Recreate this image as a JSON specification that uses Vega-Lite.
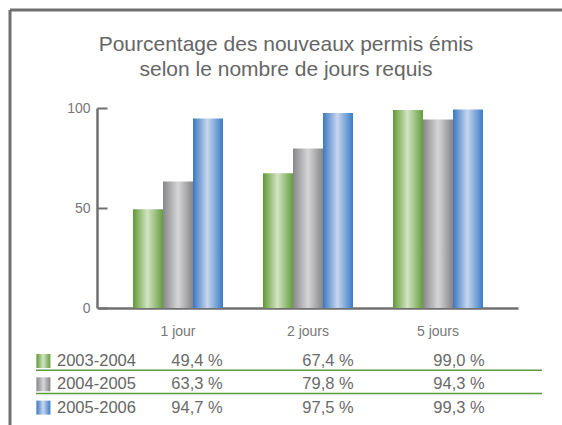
{
  "$schema": "https://vega.github.io/schema/vega-lite/v6.json",
  "width": 552,
  "height": 415,
  "autosize": {"type": "none"},
  "padding": {"left": 10, "top": 10, "right": 0, "bottom": 0},
  "background": "white",
  "view": {"stroke": "#707070", "strokeWidth": 3, "strokeDash": [552, 967, 415, 0]},
  "config": {"font": "Liberation Sans"},
  "params": [
    {"name": "gVert", "expr": "{gradient: 'linear', x1: 0, y1: 0, x2: 1, y2: 0, stops: [{offset: 0, color: '#5f9935'}, {offset: 0.48, color: '#d3e4c3'}, {offset: 1, color: '#659d3e'}]}"},
    {"name": "gGris", "expr": "{gradient: 'linear', x1: 0, y1: 0, x2: 1, y2: 0, stops: [{offset: 0, color: '#87878a'}, {offset: 0.5, color: '#d6d6d8'}, {offset: 1, color: '#858587'}]}"},
    {"name": "gBleu", "expr": "{gradient: 'linear', x1: 0, y1: 0, x2: 1, y2: 0, stops: [{offset: 0, color: '#3a78c2'}, {offset: 0.48, color: '#c8d6ee'}, {offset: 1, color: '#3a7cc6'}]}"}
  ],
  "title": {
    "text": ["Pourcentage des nouveaux permis émis", "selon le nombre de jours requis"],
    "fontSize": 21,
    "font": "Liberation Sans",
    "fontWeight": "normal",
    "color": "#666666",
    "anchor": "middle",
    "frame": "group",
    "lineHeight": 25,
    "offset": -70
  },
  "data": {
    "values": [
      {"jours": "1 jour", "periode": "2003-2004", "pct": 49.4, "texte": "49,4 %"},
      {"jours": "2 jours", "periode": "2003-2004", "pct": 67.4, "texte": "67,4 %"},
      {"jours": "5 jours", "periode": "2003-2004", "pct": 99.0, "texte": "99,0 %"},
      {"jours": "1 jour", "periode": "2004-2005", "pct": 63.3, "texte": "63,3 %"},
      {"jours": "2 jours", "periode": "2004-2005", "pct": 79.8, "texte": "79,8 %"},
      {"jours": "5 jours", "periode": "2004-2005", "pct": 94.3, "texte": "94,3 %"},
      {"jours": "1 jour", "periode": "2005-2006", "pct": 94.7, "texte": "94,7 %"},
      {"jours": "2 jours", "periode": "2005-2006", "pct": 97.5, "texte": "97,5 %"},
      {"jours": "5 jours", "periode": "2005-2006", "pct": 99.3, "texte": "99,3 %"}
    ]
  },
  "layer": [
    {
      "mark": {
        "type": "bar",
        "fill": {"expr": "datum.periode === '2003-2004' ? gVert : datum.periode === '2004-2005' ? gGris : gBleu"},
        "strokeWidth": 0
      },
      "encoding": {
        "x": {
          "field": "jours", "type": "nominal", "sort": null,
          "scale": {"range": [88, 508], "paddingInner": 0.3077, "paddingOuter": 0.2692},
          "axis": {"title": null, "orient": "bottom", "offset": -117, "ticks": false, "domainColor": "#707070", "domainWidth": 2.5, "labelFontSize": 14, "labelColor": "#777777", "labelPadding": 16, "labelAngle": 0, "grid": false}
        },
        "xOffset": {"field": "periode", "type": "nominal", "sort": null, "scale": {"paddingInner": 0, "paddingOuter": 0}},
        "y": {
          "field": "pct", "type": "quantitative",
          "scale": {"domain": [0, 100], "range": [298, 98], "nice": false},
          "axis": {"title": null, "values": [0, 50, 100], "offset": -87, "tickSize": -10, "tickColor": "#707070", "tickWidth": 2, "domainColor": "#707070", "domainWidth": 2.5, "labelFontSize": 14, "labelColor": "#777777", "labelPadding": 17, "grid": false}
        }
      }
    },
    {
      "mark": {"type": "text", "fontSize": 16.5, "color": "#6b6b6b", "align": "center", "baseline": "middle"},
      "encoding": {
        "x": {
          "field": "jours", "type": "nominal", "sort": null,
          "scale": {"range": [121.5, 514.5], "paddingInner": 0, "paddingOuter": 0},
          "axis": null
        },
        "y": {
          "field": "periode", "type": "nominal", "sort": null,
          "scale": {"type": "band", "domain": ["2003-2004", "2004-2005", "2005-2006"], "range": [339.35, 409.25], "paddingInner": 0, "paddingOuter": 0},
          "axis": null
        },
        "text": {"field": "texte"}
      }
    },
    {
      "transform": [{"filter": "datum.jours === '1 jour' && datum.periode !== '2005-2006'"}],
      "mark": {"type": "rule", "color": "#5e9a3a", "strokeWidth": 1.5},
      "encoding": {
        "y": {
          "field": "periode", "type": "nominal", "bandPosition": 0.9,
          "scale": {"type": "band", "domain": ["2003-2004", "2004-2005", "2005-2006"], "range": [339.35, 409.25], "paddingInner": 0, "paddingOuter": 0},
          "axis": null
        },
        "x": {"datum": 0, "type": "quantitative", "scale": {"domain": [0, 1], "range": [26, 532]}, "axis": null},
        "x2": {"datum": 1}
      }
    },
    {
      "transform": [{"filter": "datum.jours === '1 jour'"}],
      "mark": {
        "type": "square", "size": 196, "opacity": 1, "strokeWidth": 0,
        "fill": {"expr": "datum.periode === '2003-2004' ? gVert : datum.periode === '2004-2005' ? gGris : gBleu"}
      },
      "encoding": {
        "y": {
          "field": "periode", "type": "nominal", "sort": null,
          "scale": {"type": "band", "domain": ["2003-2004", "2004-2005", "2005-2006"], "range": [339.35, 409.25], "paddingInner": 0, "paddingOuter": 0},
          "axis": null
        },
        "x": {"datum": 0, "type": "quantitative", "scale": {"domain": [0, 1], "range": [33.4, 47]}, "axis": null}
      }
    },
    {
      "transform": [{"filter": "datum.jours === '1 jour'"}],
      "mark": {"type": "text", "fontSize": 16.5, "color": "#666666", "align": "left", "baseline": "middle"},
      "encoding": {
        "y": {
          "field": "periode", "type": "nominal", "sort": null,
          "scale": {"type": "band", "domain": ["2003-2004", "2004-2005", "2005-2006"], "range": [339.35, 409.25], "paddingInner": 0, "paddingOuter": 0},
          "axis": null
        },
        "x": {"datum": 1, "type": "quantitative", "scale": {"domain": [0, 1], "range": [33.4, 47]}, "axis": null},
        "text": {"field": "periode"}
      }
    }
  ],
  "resolve": {"scale": {"x": "independent", "y": "independent"}}
}
